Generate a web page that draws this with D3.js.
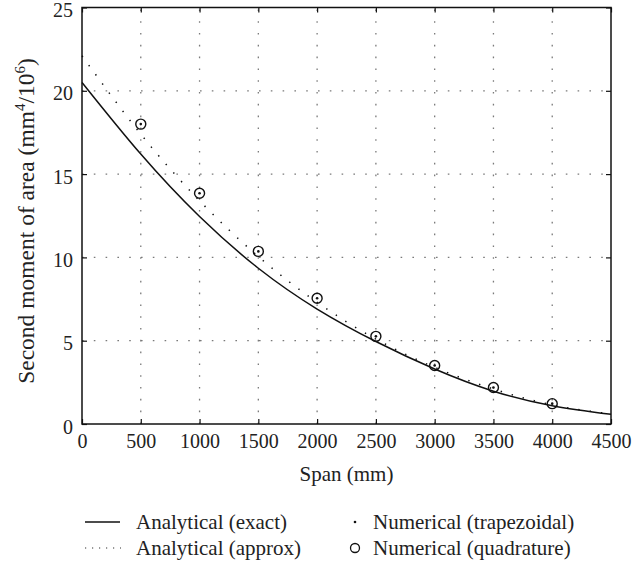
<!DOCTYPE html>
<html>
<head>
<meta charset="utf-8">
<script src="https://cdn.jsdelivr.net/npm/d3@7"></script>
<style>
  html, body { margin: 0; padding: 0; background: #fff; }
  svg { display: block; }
  text { font-family: "Liberation Serif", "DejaVu Serif", serif; fill: #222; }
</style>
</head>
<body>
<svg id="chart" width="644" height="567"></svg>
<script>
// Span (mm) at which the analytical curves are evaluated
const curveSpans = [0, 500, 1000, 1500, 2000, 2500, 3000, 3500, 4000, 4500];
// Second moment of area (mm^4 / 10^6)
const exactValues  = [20.5, 16.2, 12.45, 9.35, 6.9, 4.95, 3.3, 1.97, 1.1, 0.58];
const approxValues = [22.1, 17.4, 13.4, 10.05, 7.3, 5.1, 3.4, 2.1, 1.15, 0.6];

// Spans of the numerical results
const pointSpans = [500, 1000, 1500, 2000, 2500, 3000, 3500, 4000];
const trapezoidalValues = [18.0, 13.85, 10.36, 7.55, 5.26, 3.51, 2.19, 1.22];
const quadratureValues  = [18.0, 13.85, 10.36, 7.55, 5.26, 3.51, 2.19, 1.22];

const xTicks = [0, 500, 1000, 1500, 2000, 2500, 3000, 3500, 4000, 4500];
const yTicks = [0, 5, 10, 15, 20, 25];

const legendItems = [
  { label: "Analytical (exact)", kind: "solid", col: 0, row: 0 },
  { label: "Analytical (approx)", kind: "dotted", col: 0, row: 1 },
  { label: "Numerical (trapezoidal)", kind: "dot", col: 1, row: 0 },
  { label: "Numerical (quadrature)", kind: "circle", col: 1, row: 1 }
];

const svg = d3.select("#chart");
const plot = { left: 82, right: 611, top: 7.5, bottom: 424 };
const tickFont = 20, labelFont = 21, yTitleFont = 23.5;

const x = d3.scaleLinear().domain([0, 4500]).range([plot.left, plot.right]);
const y = d3.scaleLinear().domain([0, 25]).range([plot.bottom, plot.top]);

// dotted grid
const grid = svg.append("g").attr("stroke", "#7a7a7a").attr("stroke-width", 1.3)
  .attr("stroke-dasharray", "1.6,10.2");
grid.selectAll("line.vx").data(xTicks.slice(1, -1)).join("line")
  .attr("class", "vx")
  .attr("x1", d => x(d)).attr("x2", d => x(d))
  .attr("y1", plot.bottom).attr("y2", plot.top);
grid.selectAll("line.hy").data(yTicks.slice(1, -1)).join("line")
  .attr("class", "hy")
  .attr("x1", plot.left).attr("x2", plot.right)
  .attr("y1", d => y(d)).attr("y2", d => y(d));

// curves
const line = (vals) => d3.line()
  .x((d, i) => x(curveSpans[i]))
  .y(d => y(d))
  .curve(d3.curveNatural)(vals);

svg.append("path").attr("d", line(approxValues))
  .attr("fill", "none").attr("stroke", "#111").attr("stroke-width", 1.5)
  .attr("stroke-dasharray", "1.4,10");

svg.append("path").attr("d", line(exactValues))
  .attr("fill", "none").attr("stroke", "#111").attr("stroke-width", 1.5);

// numerical markers
svg.append("g").selectAll("circle").data(quadratureValues).join("circle")
  .attr("cx", (d, i) => x(pointSpans[i])).attr("cy", d => y(d))
  .attr("r", 5).attr("fill", "none").attr("stroke", "#111").attr("stroke-width", 1.4);
svg.append("g").selectAll("circle").data(trapezoidalValues).join("circle")
  .attr("cx", (d, i) => x(pointSpans[i])).attr("cy", d => y(d))
  .attr("r", 1.3).attr("fill", "#111");

// axes: ticks pointing inward on all four sides
const tickLen = 5;
const fmt = d3.format("d");
const bottomAxis = d3.axisBottom(x).tickValues(xTicks).tickFormat(fmt).tickSizeInner(-tickLen).tickSizeOuter(0);
const leftAxis = d3.axisLeft(y).tickValues(yTicks).tickFormat(fmt).tickSizeInner(-tickLen).tickSizeOuter(0);
const topAxis = d3.axisTop(x).tickValues(xTicks).tickSizeInner(-tickLen).tickSizeOuter(0).tickFormat("");
const rightAxis = d3.axisRight(y).tickValues(yTicks).tickSizeInner(-tickLen).tickSizeOuter(0).tickFormat("");

function styleAxis(g) {
  g.select(".domain").remove();
  g.selectAll(".tick line").attr("stroke", "#111").attr("stroke-width", 1.2);
  g.selectAll(".tick text").attr("font-size", tickFont)
    .attr("font-family", "'Liberation Serif', 'DejaVu Serif', serif").attr("fill", "#222");
}
svg.append("g").attr("transform", `translate(0,${plot.bottom})`).call(bottomAxis).call(styleAxis)
  .selectAll(".tick text").attr("y", 10).attr("dy", "0.71em");
svg.append("g").attr("transform", `translate(${plot.left},0)`).call(leftAxis).call(styleAxis)
  .selectAll(".tick text").attr("x", -9).attr("dy", "0.45em");
svg.append("g").attr("transform", `translate(0,${plot.top})`).call(topAxis).call(styleAxis);
svg.append("g").attr("transform", `translate(${plot.right},0)`).call(rightAxis).call(styleAxis);

// frame
svg.append("rect")
  .attr("x", plot.left).attr("y", plot.top)
  .attr("width", plot.right - plot.left).attr("height", plot.bottom - plot.top)
  .attr("fill", "none").attr("stroke", "#111").attr("stroke-width", 1.5);

// axis titles
svg.append("text").attr("x", (plot.left + plot.right) / 2).attr("y", 481)
  .attr("text-anchor", "middle").attr("font-size", labelFont).text("Span (mm)");

const yTitle = svg.append("text")
  .attr("transform", `translate(34,221) rotate(-90)`)
  .attr("text-anchor", "middle").attr("font-size", yTitleFont);
yTitle.append("tspan").text("Second moment of area (mm");
yTitle.append("tspan").attr("dy", -9).attr("font-size", 15).text("4");
yTitle.append("tspan").attr("dy", 9).text("/10");
yTitle.append("tspan").attr("dy", -9).attr("font-size", 15).text("6");
yTitle.append("tspan").attr("dy", 9).text(")");

// legend
const legend = svg.append("g");
const colX = [85, 345];
const rowY = [522, 548];
legendItems.forEach(item => {
  const gx = colX[item.col], gy = rowY[item.row];
  const g = legend.append("g");
  if (item.kind === "solid") {
    g.append("line").attr("x1", gx).attr("x2", gx + 35).attr("y1", gy).attr("y2", gy)
      .attr("stroke", "#111").attr("stroke-width", 1.5);
  } else if (item.kind === "dotted") {
    g.append("line").attr("x1", gx).attr("x2", gx + 36).attr("y1", gy).attr("y2", gy)
      .attr("stroke", "#333").attr("stroke-width", 1.2).attr("stroke-dasharray", "1.2,5.8");
  } else if (item.kind === "dot") {
    g.append("circle").attr("cx", gx + 10).attr("cy", gy).attr("r", 1.3).attr("fill", "#111");
  } else {
    g.append("circle").attr("cx", gx + 10).attr("cy", gy).attr("r", 4.5)
      .attr("fill", "none").attr("stroke", "#111").attr("stroke-width", 1.3);
  }
  g.append("text").attr("x", item.col === 0 ? gx + 51 : gx + 28).attr("y", gy + 6.5)
    .attr("font-size", labelFont).text(item.label);
});
</script>
</body>
</html>
